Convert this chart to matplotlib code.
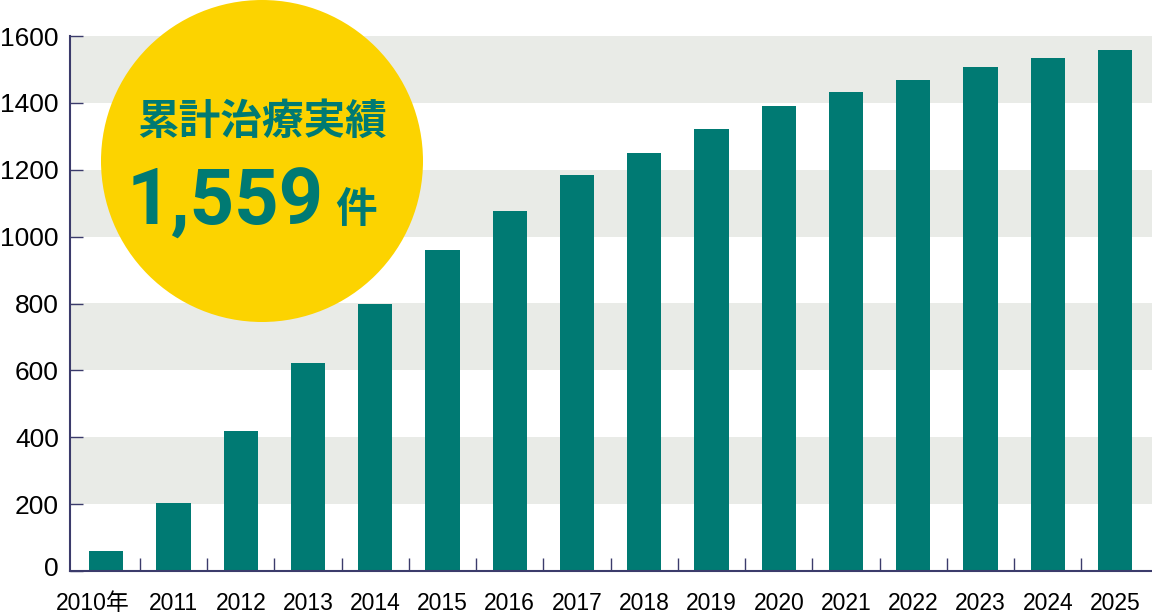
import numpy as np
import matplotlib.pyplot as plt
from matplotlib.patches import Ellipse
from matplotlib import transforms

years = ['2010年', '2011', '2012', '2013', '2014', '2015', '2016', '2017',
         '2018', '2019', '2020', '2021', '2022', '2023', '2024', '2025']
cases = [60, 203, 419, 622, 798, 960, 1077, 1184, 1250, 1322, 1390, 1434,
         1468, 1508, 1533, 1559]
yticks = [0, 200, 400, 600, 800, 1000, 1200, 1400, 1600]
bands = [(200, 400), (600, 800), (1000, 1200), (1400, 1600)]
total_label = '1,559'

teal = '#007A73'
band_col = '#E9EBE7'
navy = '#3B3B6B'
yellow = '#FCD300'
num_font = ['Liberation Sans', 'Noto Sans CJK JP']

W, H = 1152, 614
fig = plt.figure(figsize=(W / 100, H / 100), dpi=100)
ax = fig.add_axes([70 / W, 1 - 571 / H, (1152 - 70) / W, (571 - 36) / H])

x = np.arange(len(years))
for lo, hi in bands:
    ax.axhspan(lo, hi, color=band_col, lw=0, zorder=0)
ax.bar(x, cases, width=0.51, color=teal, zorder=2)

ax.set_xlim(-0.54, 15.55)
ax.set_ylim(0, 1600)
for s in ['top', 'right']:
    ax.spines[s].set_visible(False)
for s in ['left', 'bottom']:
    ax.spines[s].set_color(navy)
    ax.spines[s].set_linewidth(1.5)

ax.set_yticks(yticks)
ax.set_yticklabels([str(v) for v in yticks], family=num_font, fontsize=19)
ax.tick_params(axis='y', direction='in', length=9.5, width=1.0, color=navy, pad=8)

ax.set_xticks(x)
ax.set_xticklabels(years, family=num_font, fontsize=16.5)
ax.tick_params(axis='x', which='major', length=0, pad=15)
ax.set_xticks(x[:-1] + 0.5, minor=True)
ax.tick_params(axis='x', which='minor', direction='in', length=9.5, width=1.0, color=navy)

# first label sits a bit to the left
lbl0 = ax.get_xticklabels()[0]
lbl0.set_transform(lbl0.get_transform() + transforms.ScaledTranslation(-14 / 100, 0, fig.dpi_scale_trans))
lbl_y0 = ax.get_yticklabels()[0]
lbl_y0.set_transform(lbl_y0.get_transform() + transforms.ScaledTranslation(0, 5 / 100, fig.dpi_scale_trans))

# yellow circle badge
cx, cy, r = 262, 161, 161
fig.patches.append(Ellipse((cx / W, 1 - cy / H), 2 * r / W, 2 * r / H,
                           transform=fig.transFigure, color=yellow, lw=0, zorder=5))
fig.text(cx / W, 1 - 122 / H, '累計治療実績', ha='center', va='center',
         family='Noto Sans CJK JP', fontweight='bold', fontsize=30, color=teal, zorder=6)
fig.text(324 / W, 1 - 225 / H, total_label, ha='right', va='baseline',
         family='Roboto', fontweight='bold', fontsize=56, color=teal, zorder=6)
fig.text(335 / W, 1 - 222 / H, '件', ha='left', va='baseline',
         family='Noto Sans CJK JP', fontweight='bold', fontsize=30, color=teal, zorder=6)

fig.savefig('out.png', dpi=100)
